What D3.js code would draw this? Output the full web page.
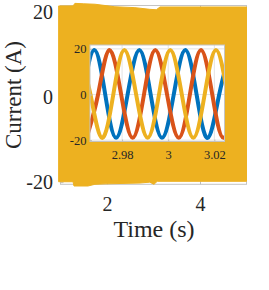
<!DOCTYPE html>
<html>
<head>
<meta charset="utf-8">
<script src="https://cdn.jsdelivr.net/npm/d3@7"></script>
<style>
  body { margin: 0; background: #fff; }
  svg { display: block; font-family: "Liberation Serif", "Times New Roman", serif; }
  .axis path { display: none; }
  .axis line { stroke: #bdbdbd; }
</style>
</head>
<body>
<svg id="chart" width="269" height="290"></svg>
<script>
"use strict";

// Main plot: the 50 Hz currents are so dense over 1..5 s that they read as a band.
// Only its edges (envelope) can be read; the yellow phase is drawn last and hides the others.
const envTopTime = [0.96, 1.27, 1.31, 1.5, 1.74, 2.17, 2.6, 2.92, 3.06, 3.14, 5.0];
const envTopVal = [21.4, 21.4, 22.0, 21.9, 21.8, 21.2, 21.0, 20.6, 20.5, 21.15, 21.15];
const envBotTime = [0.96, 1.27, 1.29, 1.59, 1.74, 1.96, 2.71, 2.92, 3.01, 3.08, 5.0];
const envBotVal = [-19.9, -19.9, -20.9, -20.9, -20.5, -20.4, -20.2, -20.0, -20.5, -19.8, -19.8];

const mainXTicks = [2, 4];
const mainYTicks = [-20, 0, 20];

// Inset around t = 3 s: peaks, zero crossings and troughs of each phase
const phaseATime = [2.9630, 2.9680, 2.9727, 2.9774, 2.9824, 2.9875, 2.9924, 2.9973, 3.0024, 3.0074, 3.0123, 3.0171, 3.0221, 3.0270];
const phaseAVal = [0, 19.5, 0, -19, 0, 19.5, 0, -19, 0, 19.5, 0, -19, 0, 19.5];
const phaseBTime = [2.9646, 2.9696, 2.9745, 2.9796, 2.9846, 2.9895, 2.9944, 2.9995, 3.0046, 3.0094, 3.0142, 3.0191, 3.0239, 3.0289];
const phaseBVal = [-19, 0, 19.5, 0, -19, 0, 19.5, 0, -19, 0, 19.5, 0, -19, 0];
const phaseCTime = [2.9614, 2.9663, 2.9713, 2.9762, 2.9810, 2.9861, 2.9911, 2.9960, 3.0009, 3.0059, 3.0109, 3.0158, 3.0207, 3.0257];
const phaseCVal = [19.5, 0, -19, 0, 19.5, 0, -19, 0, 19.5, 0, -19, 0, 19.5, 0];

const insetXTicks = [2.98, 3, 3.02];
const insetYTicks = [-20, 0, 20];

const colors = ["#0072BD", "#D95319", "#EDB120"];
const serif = '"Liberation Serif", "Times New Roman", serif';
const fmt = (d) => String(d); // plain hyphen minus, like the original

// d3 axes default to sans-serif; restyle their labels
function styleAxis(g, size) {
  g.attr("font-family", serif);
  g.selectAll("text")
    .style("font-family", serif)
    .attr("font-size", size)
    .attr("fill", "#262626");
}

const svg = d3.select("#chart");
svg.append("rect").attr("width", 269).attr("height", 290).attr("fill", "#fff");

// ---- main axes ----
const x = d3.scaleLinear().domain([1, 5]).range([60.5, 246.5]);
const y = d3.scaleLinear().domain([-20.5, 21.5]).range([184.3, 5.5]);

svg.append("rect")
  .attr("x", x(1)).attr("y", y(21.5))
  .attr("width", x(5) - x(1)).attr("height", y(-20.5) - y(21.5))
  .attr("fill", "none").attr("stroke", "#c4c4c4");

const xAxis = svg.append("g")
  .attr("class", "axis")
  .attr("transform", `translate(0,${y(-20.5)})`)
  .call(d3.axisBottom(x).tickValues(mainXTicks).tickSize(-3).tickPadding(12.5).tickFormat(fmt));
styleAxis(xAxis, 20);

svg.append("g")
  .attr("class", "axis")
  .attr("transform", `translate(0,${y(21.5)})`)
  .call(d3.axisTop(x).tickValues(mainXTicks).tickSize(-3).tickFormat(""));

const yAxis = svg.append("g")
  .attr("class", "axis")
  .attr("transform", `translate(${x(1)},0)`)
  .call(d3.axisLeft(y).tickValues(mainYTicks).tickSize(-3).tickPadding(7.5).tickFormat(fmt));
styleAxis(yAxis, 20);

// envelope band as one closed polygon
const envPoints = envTopTime.map((t, i) => [t, envTopVal[i]])
  .concat(envBotTime.map((t, i) => [t, envBotVal[i]]).reverse());

svg.append("path")
  .attr("d", d3.line().x((d) => x(d[0])).y((d) => y(d[1])).curve(d3.curveLinearClosed)(envPoints))
  .attr("fill", colors[2])
  .attr("stroke", colors[2])
  .attr("stroke-width", 1);

// axis titles
svg.append("text")
  .attr("x", 154).attr("y", 237)
  .attr("text-anchor", "middle")
  .attr("font-size", 24).attr("fill", "#262626")
  .text("Time (s)");

svg.append("text")
  .attr("transform", "translate(21,95) rotate(-90)")
  .attr("text-anchor", "middle")
  .attr("font-size", 23).attr("fill", "#262626")
  .text("Current (A)");

// ---- inset ----
const xi = d3.scaleLinear().domain([2.9661, 3.0244]).range([90, 224.5]);
const yi = d3.scaleLinear().domain([-20.6, 21.7]).range([141.5, 45]);

const inset = svg.append("g");

inset.append("rect")
  .attr("x", 90).attr("y", 45)
  .attr("width", 134.5).attr("height", 96.5)
  .attr("fill", "#fff");

// grid
inset.selectAll(".gx").data(insetXTicks).join("line")
  .attr("x1", (d) => xi(d)).attr("x2", (d) => xi(d))
  .attr("y1", 45).attr("y2", 141.5)
  .attr("stroke", "#e3e3e3");
inset.selectAll(".gy").data(insetYTicks).join("line")
  .attr("x1", 90).attr("x2", 224.5)
  .attr("y1", (d) => yi(d)).attr("y2", (d) => yi(d))
  .attr("stroke", "#e3e3e3");

svg.append("clipPath").attr("id", "inset-clip")
  .append("rect").attr("x", 90).attr("y", 45).attr("width", 134.5).attr("height", 96.5);

const waveLine = d3.line().x((d) => xi(d[0])).y((d) => yi(d[1])).curve(d3.curveNatural);
const phases = [
  phaseATime.map((t, i) => [t, phaseAVal[i]]),
  phaseBTime.map((t, i) => [t, phaseBVal[i]]),
  phaseCTime.map((t, i) => [t, phaseCVal[i]]),
];

inset.append("g")
  .attr("clip-path", "url(#inset-clip)")
  .selectAll("path")
  .data(phases)
  .join("path")
  .attr("d", waveLine)
  .attr("fill", "none")
  .attr("stroke", (d, i) => colors[i])
  .attr("stroke-width", 4);

inset.append("rect")
  .attr("x", 90).attr("y", 45)
  .attr("width", 134.5).attr("height", 96.5)
  .attr("fill", "none").attr("stroke", "#c4c4c4");

const ixAxis = inset.append("g")
  .attr("class", "axis")
  .attr("transform", "translate(0,141.5)")
  .call(d3.axisBottom(xi).tickValues(insetXTicks).tickSize(-2).tickPadding(8.6).tickFormat(fmt));
styleAxis(ixAxis, 12.5);

const iyAxis = inset.append("g")
  .attr("class", "axis")
  .attr("transform", "translate(90,0)")
  .call(d3.axisLeft(yi).tickValues(insetYTicks).tickSize(-2).tickPadding(3.5).tickFormat(fmt));
styleAxis(iyAxis, 12.5);
</script>
</body>
</html>
